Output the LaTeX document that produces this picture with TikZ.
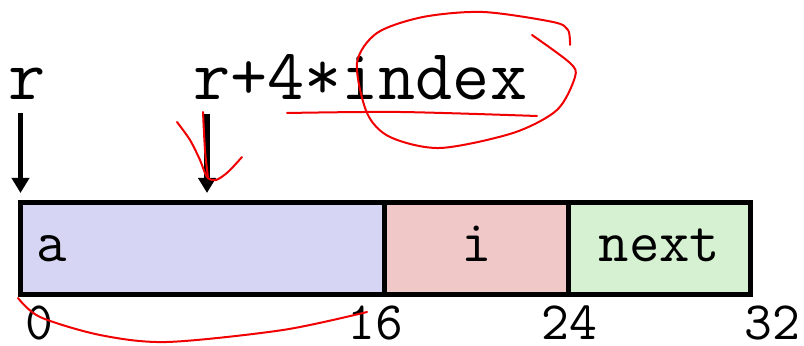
\documentclass[tikz,border=0pt]{standalone}
\definecolor{fieldBlue}{HTML}{D6D6F4}
\definecolor{fieldRose}{HTML}{F0C8C8}
\definecolor{fieldMint}{HTML}{D6F0D2}
\definecolor{penRed}{HTML}{F00000}
\usetikzlibrary{arrows.meta, positioning}

\begin{document}
\begin{tikzpicture}[
    x=0.5pt, y=-0.5pt,
    node distance=0pt,
    field/.style={
      draw=black,
      line width=2.5pt,
      outer sep=0pt,
      minimum height=46pt,
      text height=13pt,
      text depth=0pt,
      inner xsep=8pt,
      font=\ttfamily\fontsize{29.5}{30}\selectfont,
    },
    ptrlbl/.style={font=\ttfamily\fontsize{36}{36}\selectfont, inner sep=0pt, anchor=base west},
    offset/.style={font=\ttfamily\fontsize{27}{27}\selectfont, inner sep=0pt, anchor=base},
    ptr/.style={-{Triangle[length=7.5pt, width=8.5pt]}, line width=2.8pt, shorten <=6.5pt, shorten >=4.75pt},
    pen/.style={penRed, line width=1pt, line cap=round, line join=round},
  ]
    \useasboundingbox (0,0) rectangle (804,346);

    % struct layout
    \node[field, fill=fieldBlue, anchor=north west, text width=166pt, align=left] (fieldA) at (20.5,202.5) {a};
    \node[field, fill=fieldRose, minimum width=92pt, right=of fieldA] (fieldI) {i};
    \node[field, fill=fieldMint, minimum width=91pt, right=of fieldI] (fieldNext) {next};

    % pointers
    \node[ptrlbl] (rBase) at (8,100) {r};
    \node[ptrlbl] (rIndex) at (193,100) {r+4*index};
    \coordinate (elemTop) at ([xshift=93.25pt]fieldA.north west);

    \draw[ptr] (fieldA.north west |- rBase.south) -- (fieldA.north west);
    \draw[ptr] (elemTop |- rIndex.south) -- (elemTop);

    % byte offsets
    \node[offset] (off0) at (39,340) {0};
    \node[offset] (off16) at (375,340) {16};
    \node[offset] (off24) at (569,340) {24};
    \node[offset] (off32) at (772,340) {32};

    % pen marks
    \draw[pen] plot[smooth] coordinates {(287,113) (400,112) (537,116)};
    \draw[pen] plot[smooth] coordinates {(570,45) (568,30) (553,22) (483,12) (423,17) (377,33) (357,63) (367,113) (390,137) (440,148) (513,133) (557,110) (575,77) (570,63) (532,35)};
    \draw[pen] plot[smooth] coordinates {(177,122) (190,140) (200,160) (207,177) (216,180) (228,172) (242,157)};
    \draw[pen] plot[smooth] coordinates {(203,112) (205,150) (208,178)};
    \draw[pen] plot[smooth] coordinates {(18,298) (40,317) (100,335) (167,342) (283,330) (367,312)};
  \end{tikzpicture}
\end{document}
